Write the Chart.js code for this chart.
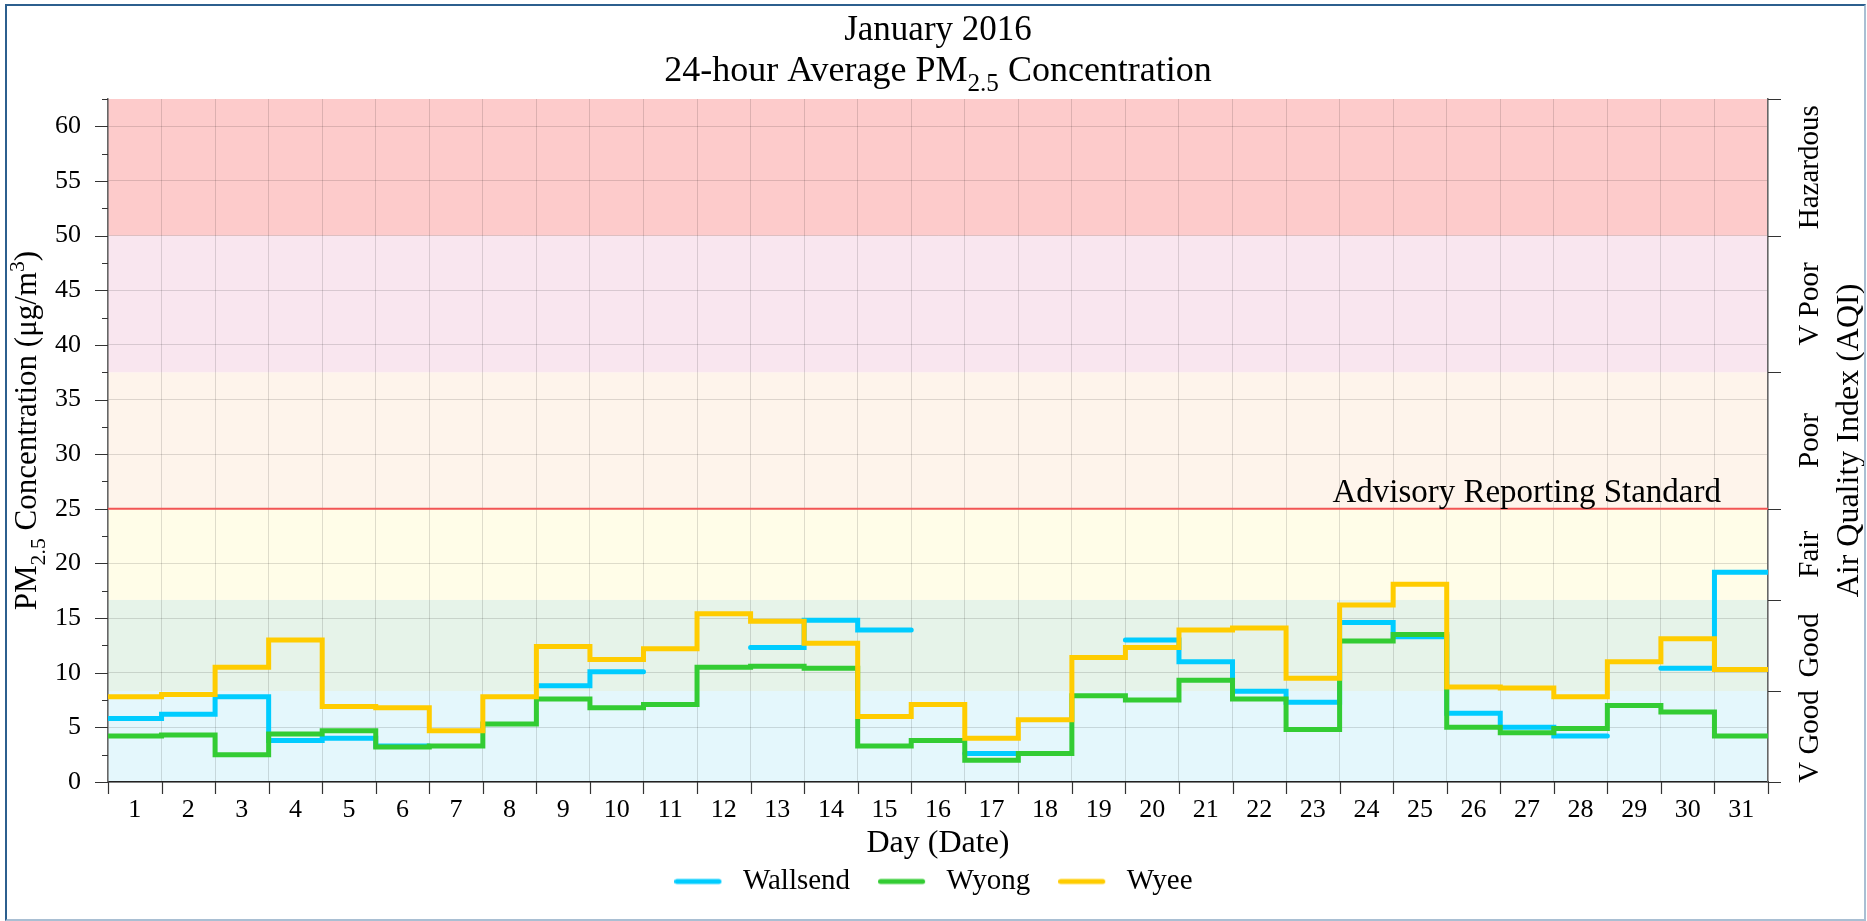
<!DOCTYPE html>
<html>
<head>
<meta charset="utf-8">
<title>January 2016 PM2.5</title>
<script src="https://cdn.jsdelivr.net/npm/chart.js@4/dist/chart.umd.min.js"></script>
<style>
    html, body { margin: 0; padding: 0; background: #fff; }
    #wrap { position: relative; width: 1867px; height: 921px; }
    #frame {
        position: absolute; left: 5px; top: 4px; width: 1857px; height: 913px;
        border-top: 2px solid #2c5f8e; border-left: 2px solid #2c5f8e;
        border-right: 2px solid #a9bfd3; border-bottom: 2px solid #a9bfd3;
        pointer-events: none;
    }
</style>
</head>
<body>
<div id="wrap">
    <canvas id="pmChart" width="1867" height="921"></canvas>
    <div id="frame"></div>
</div>
<script>
// --- data ---
const days = ['1', '2', '3', '4', '5', '6', '7', '8', '9', '10', '11', '12', '13', '14', '15', '16',
              '17', '18', '19', '20', '21', '22', '23', '24', '25', '26', '27', '28', '29', '30', '31'];

const wallsend = [5.8, 6.2, 7.8, 3.8, 4.0, 3.3, null, null, 8.8, 10.1, null, null, 12.3, 14.8, 13.9, null,
                  2.6, null, null, 13.0, 11.0, 8.3, 7.3, 14.6, 13.3, 6.3, 5.0, 4.2, null, 10.4, 19.2];
const wyong    = [4.2, 4.3, 2.5, 4.4, 4.7, 3.2, 3.3, 5.3, 7.6, 6.8, 7.1, 10.5, 10.6, 10.4, 3.3, 3.8,
                  2.0, 2.6, 7.9, 7.5, 9.3, 7.6, 4.8, 12.9, 13.5, 5.0, 4.5, 4.9, 7.0, 6.4, 4.2];
const wyee     = [7.8, 8.0, 10.5, 13.0, 6.9, 6.8, 4.7, 7.8, 12.4, 11.2, 12.2, 15.4, 14.7, 12.7, 6.0, 7.1,
                  4.0, 5.7, 11.4, 12.3, 13.9, 14.1, 9.5, 16.2, 18.1, 8.7, 8.6, 7.8, 11.0, 13.1, 10.3];

const yTicks = [0, 5, 10, 15, 20, 25, 30, 35, 40, 45, 50, 55, 60];
const yMax = 62.5;

// AQI bands (lower edge .. upper edge)
const aqiEdges  = [0, 8.33, 16.67, 25, 37.5, 50, 62.5];
const aqiLabels = ['V Good', 'Good', 'Fair', 'Poor', 'V Poor', 'Hazardous'];
const aqiColors = ['#e4f7fc', '#e6f3e9', '#fffde8', '#fef4eb', '#f9e6ef', '#fdcbcb'];

const advisoryLevel = 25;
const advisoryText = 'Advisory Reporting Standard';

// text pieces: [text, 0 normal / -1 subscript / 1 superscript]
const titleLine1 = [['January 2016', 0]];
const titleLine2 = [['24-hour Average PM', 0], ['2.5', -1], [' Concentration', 0]];
const yTitle = [['PM', 0], ['2.5', -1], [' Concentration (μg/m', 0], ['3', 1], [')', 0]];
const xTitle = [['Day (Date)', 0]];
const y2Title = [['Air Quality Index (AQI)', 0]];

const FONT = '"Liberation Serif", "Times New Roman", serif';
const LINE_W = 5;

// each day becomes a flat step from its start to its end
function stepPoints(values) {
    const pts = [];
    values.forEach((v, i) => {
        pts.push({ x: i, y: v }, { x: i + 1, y: v });
    });
    return pts;
}

// small line sample used as the legend point style
function legendSwatch(color) {
    const c = document.createElement('canvas');
    c.width = 54;
    c.height = 8;
    const g = c.getContext('2d');
    g.strokeStyle = color;
    g.lineWidth = LINE_W;
    g.lineCap = 'round';
    g.beginPath();
    g.moveTo(2.5, 4);
    g.lineTo(44.5, 4);
    g.stroke();
    return c;
}

function drawRich(ctx, parts, size, cx, baseline) {
    const fonts = parts.map(p => (p[1] ? size * 0.7 : size) + 'px ' + FONT);
    const widths = parts.map((p, i) => { ctx.font = fonts[i]; return ctx.measureText(p[0]).width; });
    let x = cx - widths.reduce((a, b) => a + b, 0) / 2;
    ctx.textAlign = 'left';
    ctx.textBaseline = 'alphabetic';
    parts.forEach((p, i) => {
        ctx.font = fonts[i];
        const dy = p[1] < 0 ? size * 0.28 : (p[1] > 0 ? -size * 0.4 : 0);
        ctx.fillText(p[0], x, baseline + dy);
        x += widths[i];
    });
}

const decorPlugin = {
    id: 'decor',
    beforeDraw(chart) {
        const { ctx, chartArea: a } = chart;
        const y = chart.scales.y;
        ctx.save();
        for (let i = 0; i < aqiLabels.length; i++) {
            const top = y.getPixelForValue(aqiEdges[i + 1]);
            const bot = y.getPixelForValue(aqiEdges[i]);
            ctx.fillStyle = aqiColors[i];
            ctx.fillRect(a.left, top, a.right - a.left, bot - top);
        }
        ctx.restore();
    },
    beforeDatasetsDraw(chart) {
        const { ctx, chartArea: a } = chart;
        const py = chart.scales.y.getPixelForValue(advisoryLevel);
        ctx.save();
        ctx.strokeStyle = '#f25555';
        ctx.lineWidth = 2;
        ctx.beginPath();
        ctx.moveTo(a.left, py);
        ctx.lineTo(a.right, py);
        ctx.stroke();
        ctx.fillStyle = '#000';
        ctx.font = '33px ' + FONT;
        ctx.textAlign = 'right';
        ctx.textBaseline = 'alphabetic';
        ctx.fillText(advisoryText, a.right - 47, py - 7);
        ctx.restore();
    },
    afterDraw(chart) {
        const { ctx, chartArea: a } = chart;
        const y = chart.scales.y;
        const xv = chart.scales.xv;
        ctx.save();
        ctx.strokeStyle = '#333';
        ctx.lineWidth = 1.2;
        ctx.beginPath();
        // left axis: major ticks at labels, minor halfway
        yTicks.forEach(v => {
            const p = Math.round(y.getPixelForValue(v)) + 0.5;
            ctx.moveTo(a.left - 13, p); ctx.lineTo(a.left, p);
            const m = Math.round(y.getPixelForValue(v + 2.5)) + 0.5;
            ctx.moveTo(a.left - 6, m); ctx.lineTo(a.left, m);
        });
        // right axis: band edges
        aqiEdges.forEach(v => {
            const p = Math.round(y.getPixelForValue(v)) + 0.5;
            ctx.moveTo(a.right, p); ctx.lineTo(a.right + 13, p);
        });
        // bottom axis: day boundaries
        for (let i = 0; i <= days.length; i++) {
            const p = Math.round(xv.getPixelForValue(i)) + 0.5;
            ctx.moveTo(p, a.bottom); ctx.lineTo(p, a.bottom + 12);
        }
        ctx.stroke();

        ctx.fillStyle = '#000';
        const cx = (a.left + a.right) / 2;
        const cy = (a.top + a.bottom) / 2;

        // titles
        drawRich(ctx, titleLine1, 35, cx, 40);
        drawRich(ctx, titleLine2, 36, cx, 81);

        // x axis title
        drawRich(ctx, xTitle, 32, cx, 852);

        // y axis title (rotated)
        ctx.save();
        ctx.translate(36, cy - 10);
        ctx.rotate(-Math.PI / 2);
        drawRich(ctx, yTitle, 31, 0, 0);
        ctx.restore();

        // AQI band labels
        for (let i = 0; i < aqiLabels.length; i++) {
            const mid = (y.getPixelForValue(aqiEdges[i]) + y.getPixelForValue(aqiEdges[i + 1])) / 2;
            ctx.save();
            ctx.translate(1818, mid);
            ctx.rotate(-Math.PI / 2);
            drawRich(ctx, [[aqiLabels[i], 0]], 29, 0, 0);
            ctx.restore();
        }

        // right axis title
        ctx.save();
        ctx.translate(1858, cy);
        ctx.rotate(-Math.PI / 2);
        drawRich(ctx, y2Title, 32, 0, 0);
        ctx.restore();

        ctx.restore();
    }
};

const ctx = document.getElementById('pmChart');

new Chart(ctx, {
    type: 'line',
    data: {
        labels: days,
        datasets: [
            { label: 'Wallsend', data: stepPoints(wallsend), borderColor: '#00ccff', order: 2 },
            { label: 'Wyong', data: stepPoints(wyong), borderColor: '#33cc33', order: 1 },
            { label: 'Wyee', data: stepPoints(wyee), borderColor: '#ffcc00', order: 0 }
        ].map(ds => Object.assign(ds, {
            xAxisID: 'xv',
            yAxisID: 'y',
            backgroundColor: ds.borderColor,
            borderWidth: LINE_W,
            pointRadius: 0,
            tension: 0,
            spanGaps: false,
            borderCapStyle: 'round',
            borderJoinStyle: 'miter'
        }))
    },
    options: {
        responsive: false,
        animation: false,
        layout: { padding: { top: 99, bottom: 15, left: 0, right: 0 } },
        plugins: {
            title: { display: false },
            tooltip: { enabled: false },
            legend: {
                position: 'bottom',
                labels: {
                    color: '#000',
                    font: { family: FONT, size: 29 },
                    usePointStyle: true,
                    pointStyleWidth: 54,
                    padding: 28,
                    sort: (a, b) => a.datasetIndex - b.datasetIndex,
                    generateLabels(chart) {
                        const items = Chart.defaults.plugins.legend.labels.generateLabels(chart);
                        items.forEach(it => {
                            const ds = chart.data.datasets[it.datasetIndex];
                            it.pointStyle = legendSwatch(ds.borderColor);
                        });
                        return items;
                    }
                }
            }
        },
        scales: {
            x: {
                type: 'category',
                position: 'bottom',
                offset: true,
                grid: { offset: true, color: 'rgba(0,0,0,0.13)', drawTicks: false },
                border: { color: '#222', width: 1.5 },
                ticks: { color: '#000', font: { family: FONT, size: 26 }, padding: 13, autoSkip: false, maxRotation: 0 },
                afterFit: s => { s.height = 57; }
            },
            xv: {
                type: 'linear',
                min: 0,
                max: days.length,
                display: false
            },
            y: {
                position: 'left',
                min: 0,
                max: yMax,
                afterBuildTicks: s => { s.ticks = yTicks.map(v => ({ value: v })); },
                grid: { color: 'rgba(0,0,0,0.13)', drawTicks: false },
                border: { color: '#666', width: 1.5 },
                ticks: { color: '#000', font: { family: FONT, size: 26 }, padding: 27, autoSkip: false },
                afterFit: s => { s.width = 108; }
            },
            y2: {
                position: 'right',
                min: 0,
                max: yMax,
                afterBuildTicks: s => { s.ticks = aqiEdges.map(v => ({ value: v })); },
                grid: { display: false, drawTicks: false },
                border: { color: '#666', width: 1.5 },
                ticks: { display: false },
                afterFit: s => { s.width = 99; }
            }
        }
    },
    plugins: [decorPlugin]
});
</script>
</body>
</html>
